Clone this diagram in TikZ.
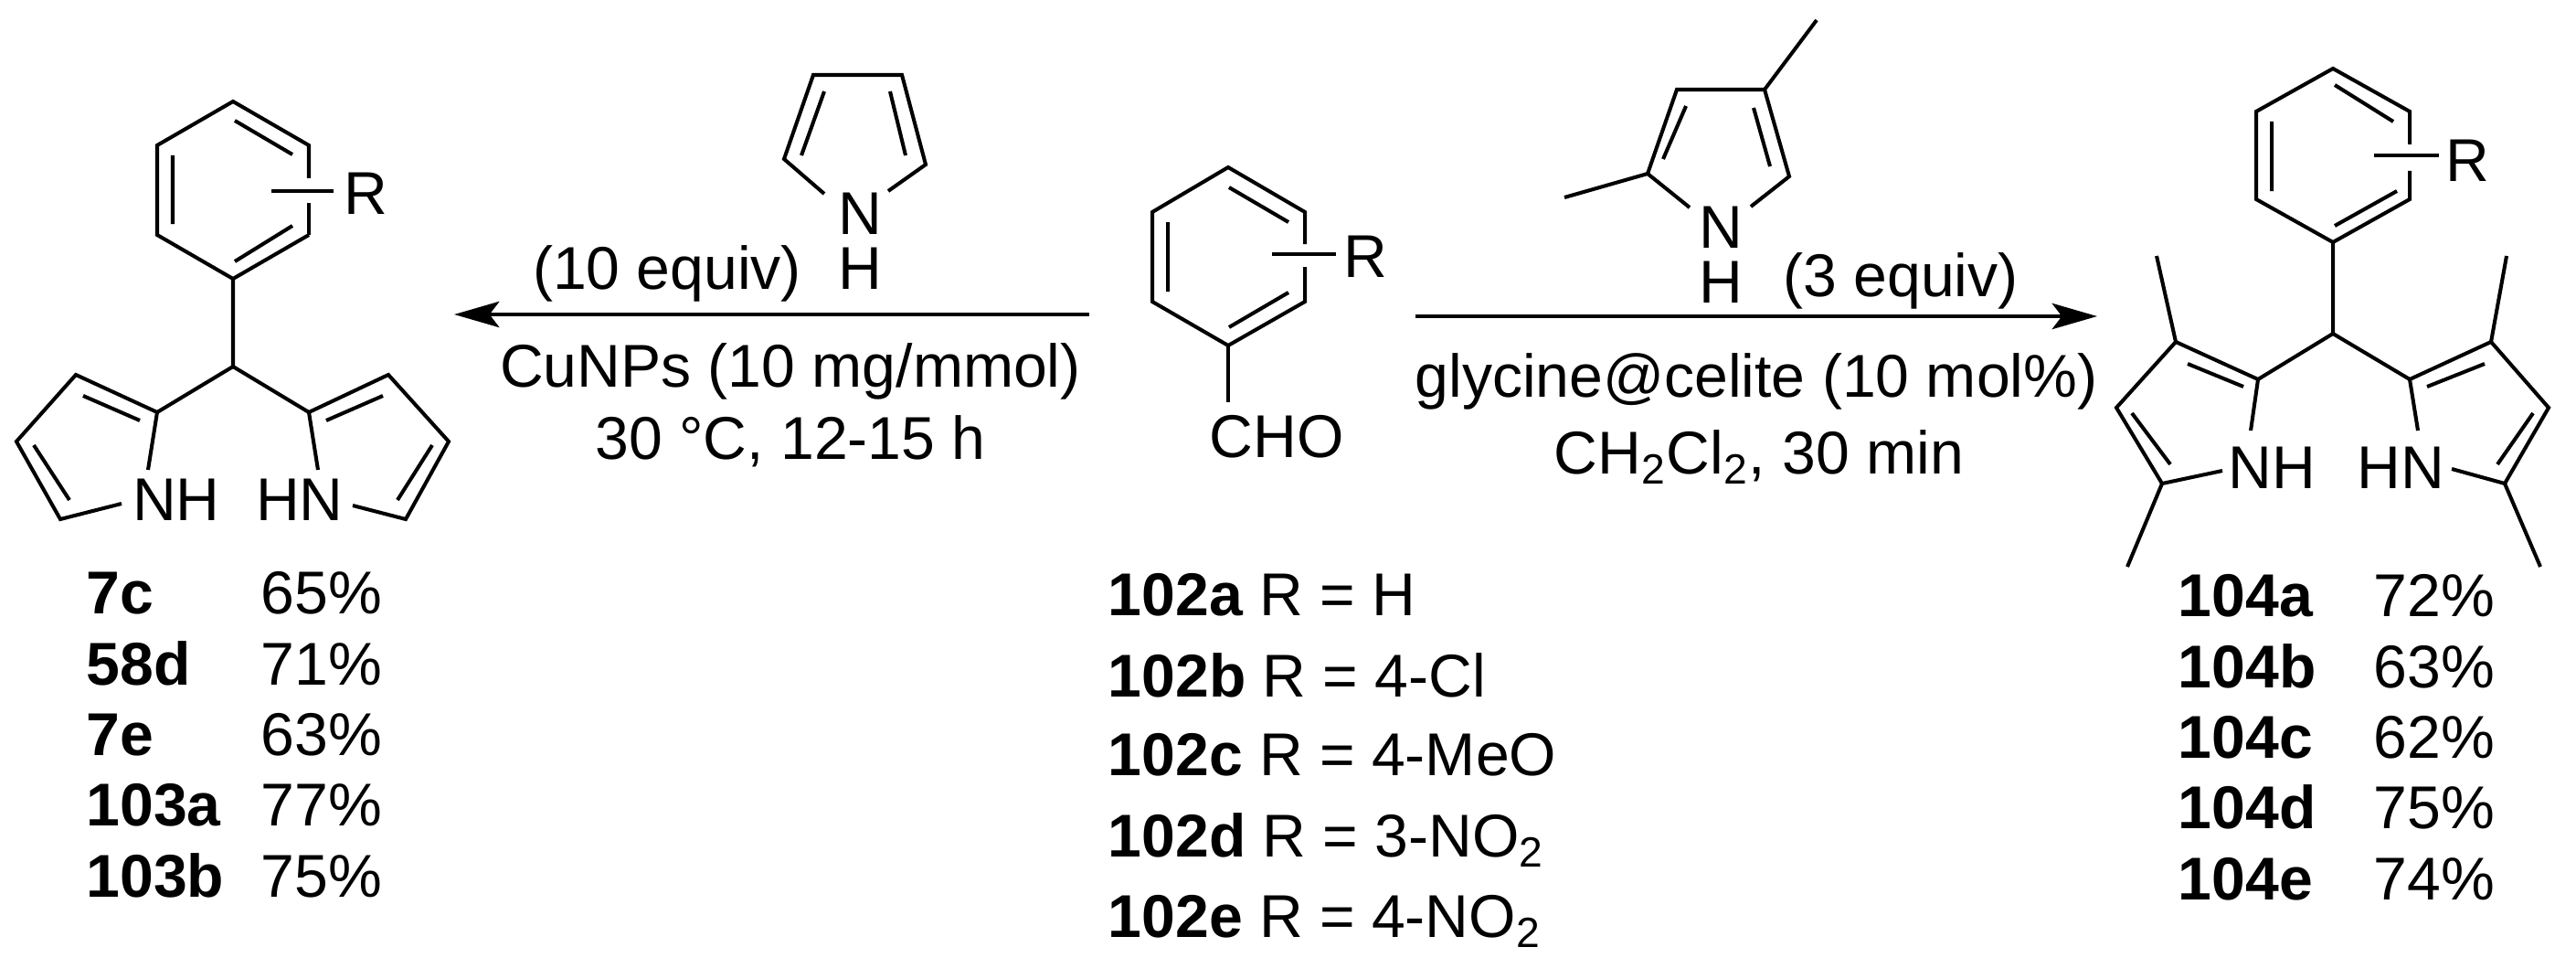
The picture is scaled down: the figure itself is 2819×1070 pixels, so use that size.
\documentclass[tikz,border=0pt]{standalone}
\usepackage{fontspec}
\setmainfont{Liberation Sans}
\usetikzlibrary{arrows.meta}
\begin{document}
\begin{tikzpicture}[x=0.01cm,y=-0.01cm,
  bond/.style={line width=1.15pt,line cap=butt,line join=miter},
  txt/.style={inner sep=0pt,font=\fontsize{18.8}{22}\selectfont},
  lbl/.style={inner sep=0pt,anchor=base west,font=\fontsize{18.8}{22}\selectfont},
  rxn/.style={line width=1.4pt,-{Stealth[length=14pt,width=8pt,inset=3pt]}}]
\useasboundingbox (0,0) rectangle (2819,1070);
% ===== left product =====
\draw[bond] (338,257)--(255,305)--(172,257)--(172,159)--(255,111)--(338,159)--(338,195);
\draw[bond] (338,222)--(338,257);
\draw[bond] (257,132)--(320,169) (189,170)--(189,245) (320,247)--(257,286);
\draw[bond] (297,209)--(365,209);
\node[txt] (Rl) at (400,212) {R};
\draw[bond] (255,305)--(255,401)--(172,451) (255,401)--(338,451);
\draw[bond] (162,514)--(172,451)--(83,410)--(18,483)--(66,568)--(133,551);
\draw[bond] (153,460)--(91,433) (37,487)--(76,547);
\draw[bond] (348,514)--(338,451)--(425,410)--(491,483)--(444,568)--(386,553);
\draw[bond] (357,460)--(419,433) (473,487)--(435,547);
\node[txt] (nhl) at (193,547) {NH};
\node[txt] (hnl) at (328,547) {HN};
% ===== pyrrole reagent =====
\draw[bond] (902,212)--(858,174)--(890,82)--(987,82)--(1013,180)--(972,209);
\draw[bond] (902,100)--(877,170) (974,100)--(991,170);
\node[txt] (pN) at (941,234) {N};
\node[txt] (pH) at (941,294) {H};
\node[txt] (eq10) at (730,299) {(10 equiv)};
% ===== central aldehyde =====
\draw[bond] (1428,292)--(1428,330)--(1344,378)--(1261,330)--(1261,232)--(1344,183)--(1428,232)--(1428,267);
\draw[bond] (1345,205)--(1410,243) (1278,243)--(1278,319) (1410,320)--(1345,358);
\draw[bond] (1392,278)--(1462,278);
\node[txt] (Rc) at (1494,281) {R};
\draw[bond] (1344,378)--(1344,440);
\node[txt] (cho) at (1397,478) {CHO};
% ===== arrows =====
\coordinate (la1) at (1192,344); \coordinate (la2) at (497,344);
\coordinate (ra1) at (1549,346); \coordinate (ra2) at (2295,346);
\draw[rxn] (la1)--(la2);
\draw[rxn] (ra1)--(ra2);
\node[txt] (c1) at (865,406) {CuNPs (10 mg/mmol)};
\node[txt] (c2) at (865,483) {30 \textdegree C, 12-15 h};
\node[txt] (c3) at (1922,417) {glycine@celite (10 mol\%)};
\node[txt] (c4) at (1925,500) {CH\textsubscript{2}Cl\textsubscript{2}, 30 min};
% ===== dimethylpyrrole =====
\draw[bond] (1849,227)--(1803,190)--(1835,98)--(1931,98)--(1958,193)--(1916,226);
\draw[bond] (1803,190)--(1712,216) (1931,98)--(1988,22);
\draw[bond] (1845,116)--(1820,174) (1919,118)--(1937,182);
\node[txt] (dN) at (1883,249) {N};
\node[txt] (dH) at (1883,309) {H};
\node[txt] (eq3) at (2080,307) {(3 equiv)};
% ===== right product =====
\draw[bond] (2637,187)--(2637,218)--(2553,265)--(2469,218)--(2469,122)--(2553,75)--(2637,122)--(2637,158);
\draw[bond] (2555,93)--(2619,133) (2486,133)--(2486,209) (2623,209)--(2555,247);
\draw[bond] (2598,170)--(2669,170);
\node[txt] (Rr) at (2700,176) {R};
\draw[bond] (2553,265)--(2553,365)--(2471,415) (2553,365)--(2637,415);
\draw[bond] (2463,471)--(2471,415)--(2381,374)--(2316,446)--(2366,529)--(2432,515);
\draw[bond] (2381,374)--(2360,280) (2366,529)--(2328,620);
\draw[bond] (2455,423)--(2394,398) (2333,452)--(2375,508);
\draw[bond] (2646,471)--(2637,415)--(2726,374)--(2789,446)--(2741,529)--(2683,513);
\draw[bond] (2726,374)--(2743,280) (2741,529)--(2780,620);
\draw[bond] (2656,423)--(2719,398) (2772,452)--(2733,508);
\node[txt] (nhr) at (2486,512) {NH};
\node[txt] (hnr) at (2627,512) {HN};
% ===== lists =====
\node[lbl] (l1) at (94,671) {\textbf{7c}};   \node[lbl] (p1) at (285,671) {65\%};
\node[lbl] (l2) at (94,749) {\textbf{58d}};  \node[lbl] (p2) at (285,749) {71\%};
\node[lbl] (l3) at (94,826) {\textbf{7e}};   \node[lbl] (p3) at (285,826) {63\%};
\node[lbl] (l4) at (94,903) {\textbf{103a}}; \node[lbl] (p4) at (285,903) {77\%};
\node[lbl] (l5) at (94,981) {\textbf{103b}}; \node[lbl] (p5) at (285,981) {75\%};
\node[lbl] (m1) at (1212,673) {\textbf{102a} R = H};
\node[lbl] (m2) at (1212,762) {\textbf{102b} R = 4-Cl};
\node[lbl] (m3) at (1212,848) {\textbf{102c} R = 4-MeO};
\node[lbl] (m4) at (1212,937) {\textbf{102d} R = 3-NO\textsubscript{2}};
\node[lbl] (m5) at (1212,1025) {\textbf{102e} R = 4-NO\textsubscript{2}};
\node[lbl] (r1) at (2383,674) {\textbf{104a}}; \node[lbl] (q1) at (2597,674) {72\%};
\node[lbl] (r2) at (2383,752) {\textbf{104b}}; \node[lbl] (q2) at (2597,752) {63\%};
\node[lbl] (r3) at (2383,829) {\textbf{104c}}; \node[lbl] (q3) at (2597,829) {62\%};
\node[lbl] (r4) at (2383,906) {\textbf{104d}}; \node[lbl] (q4) at (2597,906) {75\%};
\node[lbl] (r5) at (2383,984) {\textbf{104e}}; \node[lbl] (q5) at (2597,984) {74\%};
\end{tikzpicture}
\end{document}
